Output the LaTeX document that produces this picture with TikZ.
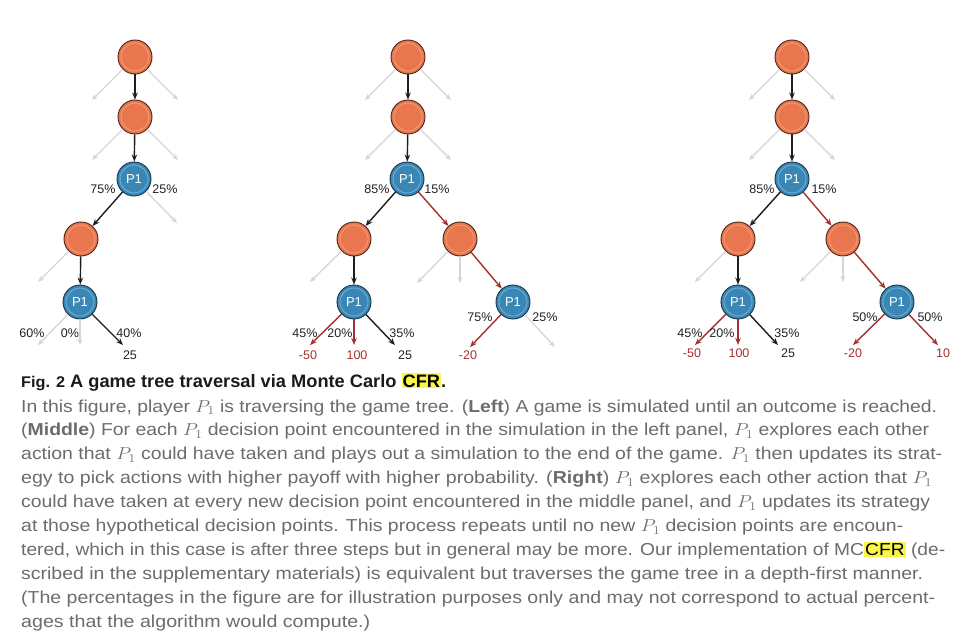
\documentclass[tikz,border=0pt]{standalone}
\usepackage{graphicx}
\usepackage{fontspec}
\setmainfont{Liberation Sans}
\usetikzlibrary{arrows.meta}
\definecolor{orfill}{HTML}{E8774F}
\definecolor{orring}{HTML}{F29B74}
\definecolor{orborder}{HTML}{4A2416}
\definecolor{blfill}{HTML}{3A86B4}
\definecolor{blring}{HTML}{6DB2DA}
\definecolor{blborder}{HTML}{1A3547}
\definecolor{redarr}{HTML}{A5302E}
\definecolor{greyarr}{HTML}{D6D6D6}
\definecolor{blackarr}{HTML}{1E1E1E}
\definecolor{labeltext}{HTML}{222222}
\definecolor{bodytext}{HTML}{6C6C6C}
\definecolor{titletext}{HTML}{1A1A1A}
\definecolor{hlyellow}{HTML}{FAF54C}
\newcommand{\hlt}[1]{{\setlength{\fboxsep}{1pt}\colorbox{hlyellow}{\textcolor{black}{#1}}}}
\newcommand{\fitline}[2]{\resizebox{#1}{\height}{#2}}
\begin{document}
\begin{tikzpicture}[x=1pt,y=-1pt,
  chance/.style={circle, minimum size=34pt, inner sep=0pt, draw=orborder, line width=0.9pt, fill=orfill,
    path picture={\draw[orring,line width=0.9pt] (path picture bounding box.center) circle[radius=14pt];}},
  pone/.style={circle, minimum size=34pt, inner sep=0pt, draw=blborder, line width=0.9pt, fill=blfill,
    text=white, font=\fontsize{13}{13}\selectfont,
    path picture={\draw[blring,line width=0.9pt] (path picture bounding box.center) circle[radius=14pt];}},
  blk/.style={-{Stealth[length=7pt,width=5.5pt]}, line width=1.4pt, draw=blackarr},
  rd/.style={-{Stealth[length=7pt,width=5.5pt]}, line width=1.4pt, draw=redarr},
  gr/.style={-{Stealth[length=6pt,width=5pt]}, line width=1.3pt, draw=greyarr},
  lbl/.style={font=\fontsize{12.5}{13}\selectfont, text=labeltext, inner sep=0pt},
  rlbl/.style={lbl, text=redarr},
  body/.style={anchor=base west, inner sep=0pt, text=bodytext, font=\fontsize{17.3}{20}\selectfont},
]
\path[use as bounding box] (0,0) rectangle (972,642);
\fill[white] (0,0) rectangle (972,642);

% ---------------- Left panel ----------------
\node[chance] (L1) at (135,57) {};
\node[chance] (L2) at (135,117) {};
\node[pone] (L3) at (134,179) {P1};
\node[chance] (L4) at (81,239) {};
\node[pone] (L5) at (80,302) {P1};
\coordinate (L1l) at (92,100); \coordinate (L1r) at (178,100);
\coordinate (L2l) at (92,160); \coordinate (L2r) at (178,160);
\coordinate (L3r) at (177,223);
\coordinate (L4l) at (38,282);
\coordinate (L5l) at (38,345); \coordinate (L5m) at (80,345); \coordinate (L5r) at (123,345);
\draw[gr] (L1) -- (L1l); \draw[gr] (L1) -- (L1r);
\draw[gr] (L2) -- (L2l); \draw[gr] (L2) -- (L2r);
\draw[gr] (L3) -- (L3r);
\draw[gr] (L4) -- (L4l);
\draw[gr] (L5) -- (L5l); \draw[gr] (L5) -- (L5m);
\draw[blk] (L1) -- (L2);
\draw[blk] (L2) -- (L3);
\draw[blk] (L3) -- (L4);
\draw[blk] (L4) -- (L5);
\draw[blk] (L5) -- (L5r);
\node[lbl] (tL75) at (103,189) {75\%};
\node[lbl] (tL25) at (165,189) {25\%};
\node[lbl] (tL60) at (32,333) {60\%};
\node[lbl] (tL0) at (70,333) {0\%};
\node[lbl] (tL40) at (129,333) {40\%};
\node[lbl] (vL25) at (130,355) {25};

% ---------------- Middle panel ----------------
\node[chance] (M1) at (408,57) {};
\node[chance] (M2) at (408,117) {};
\node[pone] (M3) at (407,179) {P1};
\node[chance] (M4) at (354,239) {};
\node[chance] (M5) at (460,239) {};
\node[pone] (M6) at (354,302) {P1};
\node[pone] (M7) at (513,302) {P1};
\coordinate (M1l) at (365,100); \coordinate (M1r) at (451,100);
\coordinate (M2l) at (365,160); \coordinate (M2r) at (451,160);
\coordinate (M4l) at (310,282);
\coordinate (M5l) at (417,283); \coordinate (M5m) at (460,283);
\coordinate (M6l) at (310,345); \coordinate (M6m) at (354,345); \coordinate (M6r) at (395,345);
\coordinate (M7l) at (470,347); \coordinate (M7r) at (555,347);
\draw[gr] (M1) -- (M1l); \draw[gr] (M1) -- (M1r);
\draw[gr] (M2) -- (M2l); \draw[gr] (M2) -- (M2r);
\draw[gr] (M4) -- (M4l);
\draw[gr] (M5) -- (M5l); \draw[gr] (M5) -- (M5m);
\draw[gr] (M7) -- (M7r);
\draw[blk] (M1) -- (M2);
\draw[blk] (M2) -- (M3);
\draw[blk] (M3) -- (M4);
\draw[blk] (M4) -- (M6);
\draw[blk] (M6) -- (M6r);
\draw[rd] (M3) -- (M5);
\draw[rd] (M5) -- (M7);
\draw[rd] (M6) -- (M6l);
\draw[rd] (M6) -- (M6m);
\draw[rd] (M7) -- (M7l);
\node[lbl] (tM85) at (377,189) {85\%};
\node[lbl] (tM15) at (437,189) {15\%};
\node[lbl] (tM45) at (305,333) {45\%};
\node[lbl] (tM20) at (340,333) {20\%};
\node[lbl] (tM35) at (402,333) {35\%};
\node[rlbl] (vMm50) at (308,355) {-50};
\node[rlbl] (vM100) at (357,355) {100};
\node[lbl] (vM25) at (405,355) {25};
\node[lbl] (tM75) at (480,317) {75\%};
\node[lbl] (tM25b) at (545,317) {25\%};
\node[rlbl] (vMm20) at (468,355) {-20};

% ---------------- Right panel ----------------
\node[chance] (R1) at (792,57) {};
\node[chance] (R2) at (792,117) {};
\node[pone] (R3) at (792,179) {P1};
\node[chance] (R4) at (738,239) {};
\node[chance] (R5) at (843,239) {};
\node[pone] (R6) at (738,302) {P1};
\node[pone] (R7) at (897,302) {P1};
\coordinate (R1l) at (749,100); \coordinate (R1r) at (835,100);
\coordinate (R2l) at (749,160); \coordinate (R2r) at (835,160);
\coordinate (R4l) at (695,282);
\coordinate (R5l) at (800,282); \coordinate (R5m) at (843,282);
\coordinate (R6l) at (695,345); \coordinate (R6m) at (738,345); \coordinate (R6r) at (778,345);
\coordinate (R7l) at (853,345); \coordinate (R7r) at (938,345);
\draw[gr] (R1) -- (R1l); \draw[gr] (R1) -- (R1r);
\draw[gr] (R2) -- (R2l); \draw[gr] (R2) -- (R2r);
\draw[gr] (R4) -- (R4l);
\draw[gr] (R5) -- (R5l); \draw[gr] (R5) -- (R5m);
\draw[blk] (R1) -- (R2);
\draw[blk] (R2) -- (R3);
\draw[blk] (R3) -- (R4);
\draw[blk] (R4) -- (R6);
\draw[blk] (R6) -- (R6r);
\draw[rd] (R3) -- (R5);
\draw[rd] (R5) -- (R7);
\draw[rd] (R6) -- (R6l);
\draw[rd] (R6) -- (R6m);
\draw[rd] (R7) -- (R7l);
\draw[rd] (R7) -- (R7r);
\node[lbl] (tR85) at (762,189) {85\%};
\node[lbl] (tR15) at (824,189) {15\%};
\node[lbl] (tR45) at (690,333) {45\%};
\node[lbl] (tR20) at (722,333) {20\%};
\node[lbl] (tR35) at (787,333) {35\%};
\node[rlbl] (vRm50) at (692,353) {-50};
\node[rlbl] (vR100) at (739,353) {100};
\node[lbl] (vR25) at (788,353) {25};
\node[lbl] (tR50a) at (865,317) {50\%};
\node[lbl] (tR50b) at (930,317) {50\%};
\node[rlbl] (vRm20) at (853,353) {-20};
\node[rlbl] (vR10) at (943,353) {10};

% ---------------- Caption ----------------
\node[anchor=base west, inner sep=0pt, text=titletext, font=\fontsize{15.5}{18}\bfseries\selectfont] (figno) at (21,387) {\fitline{44pt}{Fig. 2}};
\node[anchor=base west, inner sep=0pt, text=titletext, font=\fontsize{18}{20}\bfseries\selectfont] (title) at (70,387) {\fitline{376pt}{A game tree traversal via Monte Carlo \hlt{CFR}.}};
\node[body] (b1) at (21,412) {\fitline{916pt}{In this figure, player $P_1$ is traversing the game tree. (\textbf{Left}) A game is simulated until an outcome is reached.}};
\node[body] (b2) at (21,435.9) {\fitline{908pt}{(\textbf{Middle}) For each $P_1$ decision point encountered in the simulation in the left panel, $P_1$ explores each other}};
\node[body] (b3) at (21,459.8) {\fitline{921pt}{action that $P_1$ could have taken and plays out a simulation to the end of the game. $P_1$ then updates its strat-}};
\node[body] (b4) at (21,483.7) {\fitline{911pt}{egy to pick actions with higher payoff with higher probability. (\textbf{Right}) $P_1$ explores each other action that $P_1$}};
\node[body] (b5) at (21,507.6) {\fitline{909pt}{could have taken at every new decision point encountered in the middle panel, and $P_1$ updates its strategy}};
\node[body] (b6) at (21,531.5) {\fitline{882pt}{at those hypothetical decision points. This process repeats until no new $P_1$ decision points are encoun-}};
\node[body] (b7) at (21,555.4) {\fitline{924pt}{tered, which in this case is after three steps but in general may be more. Our implementation of MC\hlt{CFR} (de-}};
\node[body] (b8) at (21,579.3) {\fitline{902pt}{scribed in the supplementary materials) is equivalent but traverses the game tree in a depth-first manner.}};
\node[body] (b9) at (21,603.2) {\fitline{914pt}{(The percentages in the figure are for illustration purposes only and may not correspond to actual percent-}};
\node[body] (b10) at (21,627.1) {\fitline{349pt}{ages that the algorithm would compute.)}};
\end{tikzpicture}
\end{document}
